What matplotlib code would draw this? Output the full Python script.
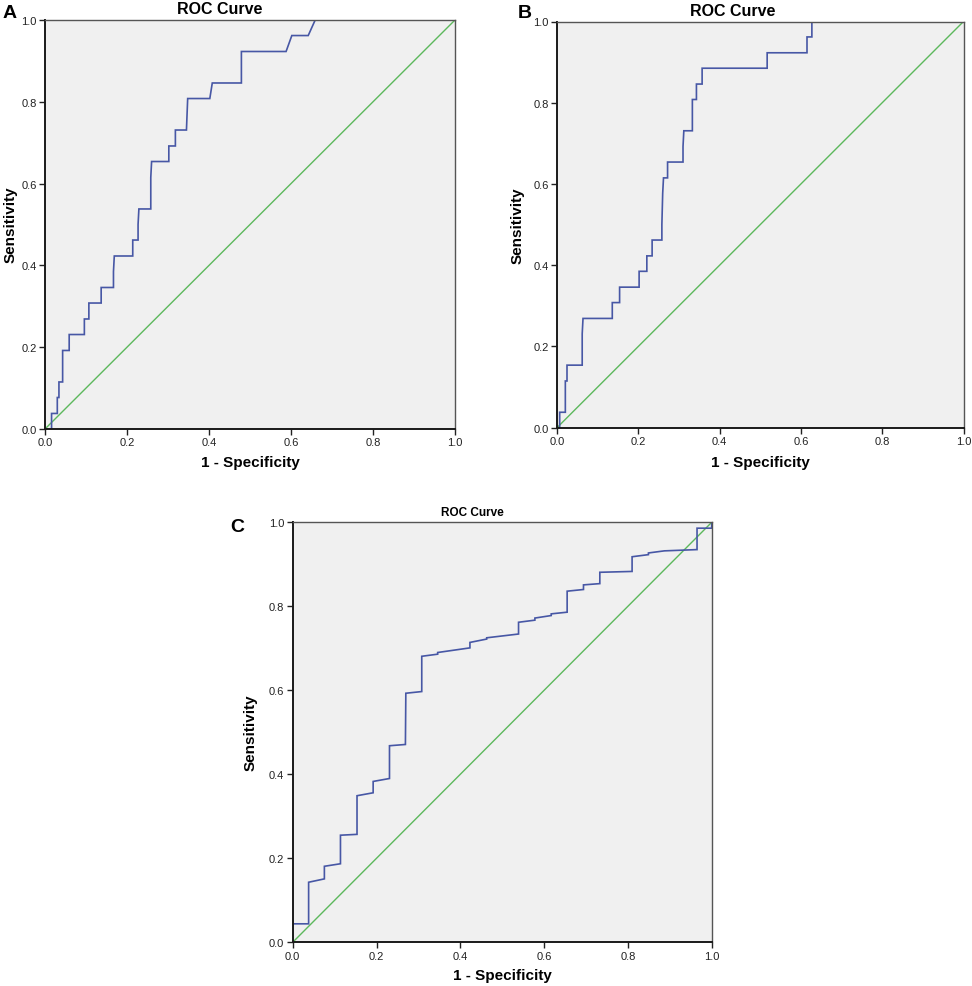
import matplotlib
matplotlib.use("Agg")
import matplotlib.pyplot as plt

W, H = 972, 987

# ---- data: ROC vertices (1 - specificity, sensitivity) ----
fpr_a = [0, 0.016, 0.016, 0.030, 0.030, 0.034, 0.034, 0.043, 0.043, 0.059, 0.059,
         0.096, 0.096, 0.107, 0.107, 0.137, 0.137, 0.167, 0.167, 0.169, 0.214,
         0.214, 0.227, 0.227, 0.229, 0.258, 0.258, 0.260, 0.302, 0.302, 0.318,
         0.318, 0.345, 0.348, 0.402, 0.408, 0.479, 0.479, 0.588, 0.602, 0.642,
         0.659, 1.0]
tpr_a = [0, 0, 0.038, 0.038, 0.077, 0.077, 0.115, 0.115, 0.192, 0.192, 0.231,
         0.231, 0.269, 0.269, 0.308, 0.308, 0.346, 0.346, 0.385, 0.423, 0.423,
         0.462, 0.462, 0.500, 0.538, 0.538, 0.615, 0.654, 0.654, 0.692, 0.692,
         0.731, 0.731, 0.808, 0.808, 0.846, 0.846, 0.923, 0.923, 0.962, 0.962,
         1.0, 1.0]

fpr_b = [0, 0.0066, 0.0066, 0.0205, 0.0205, 0.0246, 0.0246, 0.062, 0.062, 0.064,
         0.136, 0.136, 0.154, 0.154, 0.202, 0.202, 0.221, 0.221, 0.234, 0.234,
         0.258, 0.258, 0.260, 0.262, 0.272, 0.272, 0.310, 0.310, 0.312, 0.333,
         0.333, 0.343, 0.343, 0.357, 0.357, 0.517, 0.517, 0.615, 0.615, 0.627,
         0.627, 1.0]
tpr_b = [0, 0, 0.038, 0.038, 0.115, 0.115, 0.154, 0.154, 0.231, 0.269,
         0.269, 0.308, 0.308, 0.346, 0.346, 0.385, 0.385, 0.423, 0.423, 0.462,
         0.462, 0.500, 0.577, 0.615, 0.615, 0.654, 0.654, 0.692, 0.731, 0.731,
         0.808, 0.808, 0.846, 0.846, 0.885, 0.885, 0.923, 0.923, 0.962, 0.962,
         1.0, 1.0]

fpr_c = [0, 0, 0.038, 0.038, 0.0756, 0.0756, 0.114, 0.114, 0.1535, 0.1535, 0.192,
         0.192, 0.231, 0.231, 0.269, 0.270, 0.308, 0.308, 0.346, 0.346, 0.423,
         0.423, 0.463, 0.463, 0.539, 0.539, 0.578, 0.578, 0.617, 0.617, 0.655,
         0.655, 0.694, 0.694, 0.733, 0.733, 0.810, 0.810, 0.849, 0.849, 0.887,
         0.965, 0.965, 1.0, 1.0]
tpr_c = [0, 0.044, 0.044, 0.143, 0.151, 0.181, 0.187, 0.255, 0.257, 0.349, 0.356,
         0.383, 0.390, 0.468, 0.471, 0.593, 0.597, 0.681, 0.686, 0.690, 0.701,
         0.714, 0.722, 0.725, 0.734, 0.762, 0.767, 0.772, 0.778, 0.782, 0.786,
         0.836, 0.840, 0.851, 0.854, 0.881, 0.883, 0.918, 0.923, 0.927, 0.932,
         0.935, 0.986, 0.986, 1.0]

ticks = [0.0, 0.2, 0.4, 0.6, 0.8, 1.0]
tick_labels = ["0.0", "0.2", "0.4", "0.6", "0.8", "1.0"]
ref_line = [0.0, 1.0]

BLUE = "#4757a5"
GREEN = "#5cb85c"
BG = "#f0f0f0"
FONT = ["Liberation Sans", "Arial", "DejaVu Sans"]

fig = plt.figure(figsize=(W / 100, H / 100), dpi=100)
fig.patch.set_facecolor("white")


def px_axes(l, r, t, b):
    return fig.add_axes([l / W, 1 - b / H, (r - l) / W, (b - t) / H])


def ftext(x, y, s, **kw):
    fig.text(x / W, 1 - y / H, s, family=FONT, **kw)


panels = [
    # l, r, t, b, fpr, tpr, letter pos, title pos, title size, xlabel pos, ylabel pos
    (45, 455, 21, 430, fpr_a, tpr_a, (10, 14), (220, 10), 11.5, (250, 463), (11, 225), "A"),
    (557, 963.5, 22.5, 428.7, fpr_b, tpr_b, (525, 14), (733, 11), 11.5, (760, 463), (518, 226), "B"),
    (292.7, 711.7, 523.3, 943.3, fpr_c, tpr_c, (237, 527), (472, 513), 8.5, (502, 976), (251, 733), "C"),
]

for (l, r, t, b, fx, ty, lp, tp, tsize, xlp, ylp, letter) in panels:
    ax = px_axes(l, r, t, b)
    ax.set_facecolor(BG)
    ax.plot(ref_line, ref_line, color=GREEN, lw=1.0, zorder=2)
    ax.plot(fx, ty, color=BLUE, lw=1.2, zorder=3, solid_joinstyle="miter")
    ax.set_xlim(0, 1)
    ax.set_ylim(0, 1)
    ax.set_xticks(ticks)
    ax.set_yticks(ticks)
    ax.set_xticklabels(tick_labels, family=FONT, fontsize=8, color="#222222")
    ax.set_yticklabels(tick_labels, family=FONT, fontsize=8, color="#222222")
    ax.tick_params(direction="out", length=4, width=1.0, pad=2, color="#222222")
    for side in ("left", "bottom"):
        ax.spines[side].set_color("#1a1a1a")
        ax.spines[side].set_linewidth(1.4)
    for side in ("top", "right"):
        ax.spines[side].set_color("#555555")
        ax.spines[side].set_linewidth(1.0)
    for sp in ax.spines.values():
        sp.set_zorder(4)
    ax.set_clip_on(False)

    ftext(lp[0], lp[1], letter, fontsize=14, fontweight="bold", ha="center", va="center")
    ftext(tp[0], tp[1], "ROC Curve", fontsize=tsize, fontweight="bold", ha="center", va="center")
    ftext(xlp[0], xlp[1], "1 - Specificity", fontsize=11, fontweight="bold", ha="center", va="center")
    ftext(ylp[0], ylp[1], "Sensitivity", fontsize=11, fontweight="bold", ha="center", va="center",
          rotation=90)

fig.savefig("out.png", dpi=100)
